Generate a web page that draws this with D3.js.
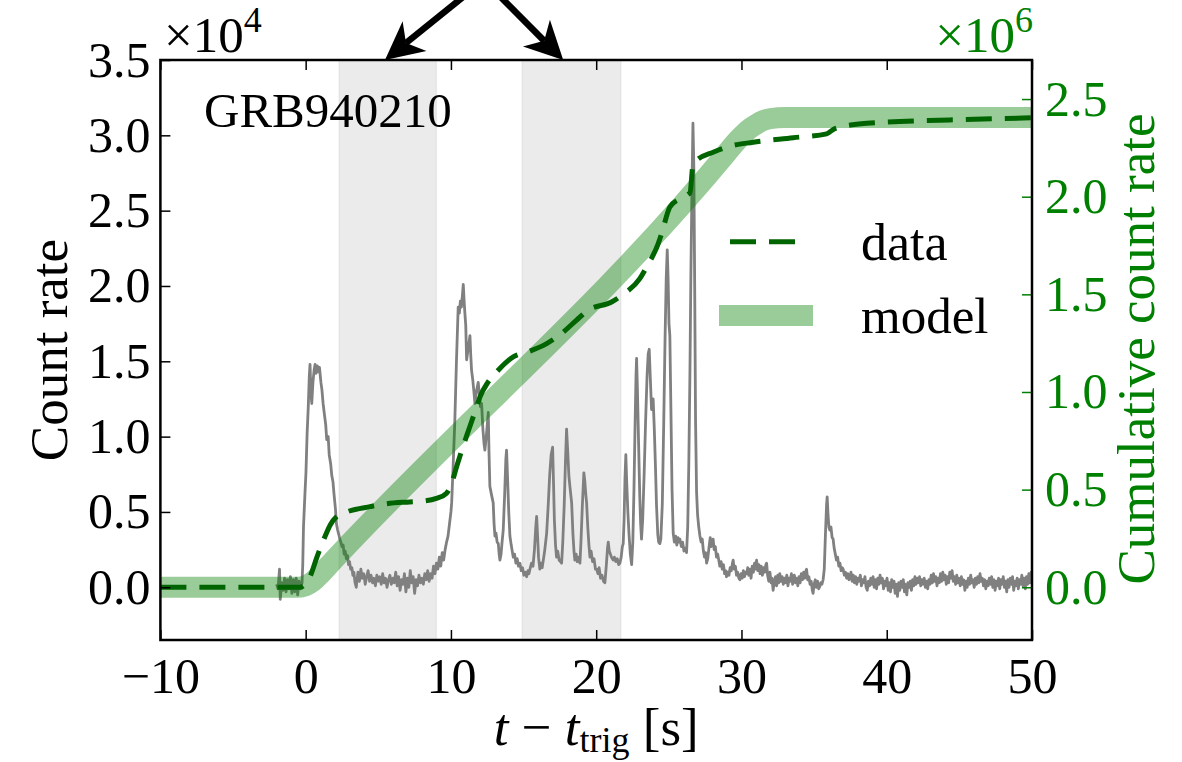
<!DOCTYPE html>
<html><head><meta charset="utf-8">
<script src="https://cdn.jsdelivr.net/npm/d3@7"></script>
<style>
body{margin:0;background:#fff}
svg{display:block}
</style>
</head><body>
<svg id="chart" width="1182" height="762"></svg>
<script>
// ---------------- data ----------------
const xTicks = [-10, 0, 10, 20, 30, 40, 50];
const leftTicks = [0, 0.5, 1, 1.5, 2, 2.5, 3, 3.5];        // ×10^4
const rightTicks = [0, 0.5, 1, 1.5, 2, 2.5];               // ×10^6
const xDomain = [-10, 50];
const leftDomain = [-0.35, 3.5];
const rightDomain = [-0.27, 2.7];
const shadedIntervals = [[2.3, 9.0], [14.9, 21.7]];
const arrowOrigin = [12.27, 4.03];
const arrowTips = [[5.46, 3.5], [17.73, 3.5]];
const labelText = "GRB940210";
const legendLabels = ["data", "model"];

// count rate [t, counts ×1e4]
const countRate = [
[-2.0,0.02],[-1.9,-0.01],[-1.8,0.12],[-1.75,-0.08],[-1.65,0.03],[-1.55,-0.02],[-1.45,0.06],[-1.35,-0.03],[-1.25,0.05],[-1.15,-0.01],[-1.05,0.07],[-0.95,-0.04],[-0.85,0.05],[-0.75,-0.03],[-0.65,0.06],[-0.55,-0.05],[-0.45,0.04],[-0.35,-0.01],[-0.25,0.03],
[-0.2,0.15],[-0.15,0.40],[-0.05,0.62],[0.02,0.76],[0.1,1.02],[0.18,1.20],[0.25,1.40],[0.3,1.48],[0.36,1.30],[0.42,1.22],[0.5,1.36],[0.58,1.44],[0.65,1.48],[0.72,1.42],[0.8,1.47],[0.88,1.43],[0.95,1.46],[1.05,1.36],[1.12,1.31],[1.2,1.22],[1.3,1.14],[1.38,1.08],[1.45,0.98],[1.55,1.00],[1.62,0.88],[1.72,0.82],[1.8,0.74],[1.88,0.70],[1.95,0.62],[2.05,0.52],[2.12,0.42],[2.2,0.38],[2.28,0.35],[2.35,0.32],[2.42,0.30],[2.5,0.27],[2.58,0.28],[2.65,0.22],[2.72,0.24],[2.8,0.19],[2.88,0.21],[2.95,0.15],[3.02,0.17],[3.1,0.12],[3.18,0.13],[3.25,0.08],[3.32,0.10],[3.4,0.03],[3.48,0.0],[3.55,0.06],
[3.6,0.10],[3.7,0.04],[3.8,0.12],[3.9,0.06],[4.0,0.09],[4.1,0.02],[4.2,0.07],[4.3,0.11],[4.4,0.04],[4.5,0.08],[4.6,0.03],[4.7,0.06],[4.8,0.01],[4.9,0.08],[5.0,0.04],[5.1,0.07],[5.2,0.02],[5.3,0.09],[5.4,0.03],[5.5,0.06],[5.6,0.00],[5.7,0.05],[5.8,0.08],[5.9,0.02],[6.0,0.06],[6.1,0.03],[6.2,0.10],[6.3,0.01],[6.4,0.07],[6.5,-0.02],[6.6,0.05],[6.7,0.02],[6.8,0.09],[6.9,-0.03],[7.0,0.06],[7.1,0.00],[7.2,0.11],[7.3,0.03],[7.4,0.07],[7.5,-0.04],[7.6,0.05],[7.7,0.01],[7.8,0.08],[7.9,0.03],[8.0,0.06],[8.1,0.02],[8.2,0.09],[8.3,0.05],[8.4,0.11],[8.5,0.04],[8.6,0.09],[8.7,0.06],[8.8,0.14],[8.9,0.09],[9.0,0.16],[9.1,0.12],[9.2,0.20],[9.3,0.14],[9.4,0.23],[9.5,0.18],[9.6,0.25],[9.7,0.30],[9.8,0.34],[9.9,0.42],[10.0,0.50],
[10.05,0.56],[10.15,0.80],[10.27,1.11],[10.38,1.50],[10.5,1.86],[10.58,1.82],[10.65,1.90],[10.72,1.86],[10.8,1.95],[10.85,2.01],[10.92,1.88],[10.96,1.82],[11.02,1.74],[11.08,1.51],[11.18,1.58],[11.31,1.67],[11.36,1.55],[11.42,1.44],[11.5,1.38],[11.58,1.30],[11.65,1.22],[11.75,1.30],[11.88,1.36],[11.95,1.28],[12.03,1.20],[12.11,1.22],[12.2,1.05],[12.28,0.95],[12.34,0.91],[12.45,1.02],[12.57,1.16],[12.62,0.90],[12.68,0.67],[12.78,0.62],[12.91,0.56],[12.97,0.42],[13.03,0.34],[13.1,0.36],[13.18,0.30],[13.26,0.29],[13.32,0.22],[13.37,0.18],[13.45,0.22],[13.52,0.30],[13.6,0.38],[13.7,0.62],[13.78,0.85],[13.83,0.91],[13.9,0.72],[13.98,0.50],[14.06,0.34],[14.15,0.28],[14.22,0.24],[14.29,0.20],[14.38,0.22],[14.47,0.16],[14.56,0.19],[14.65,0.14],[14.75,0.16],[14.84,0.11],[14.93,0.13],[15.02,0.08],[15.12,0.10],[15.21,0.07],[15.3,0.11],[15.37,0.09],[15.44,0.12],[15.55,0.16],[15.65,0.14],[15.75,0.25],[15.84,0.40],[15.9,0.47],[15.96,0.35],[16.03,0.20],[16.12,0.12],[16.2,0.16],[16.28,0.13],[16.36,0.18],[16.45,0.24],[16.52,0.30],[16.59,0.36],[16.7,0.55],[16.8,0.75],[16.9,0.88],[17.0,0.93],[17.06,0.70],[17.12,0.45],[17.2,0.28],[17.27,0.20],[17.35,0.24],[17.45,0.18],[17.55,0.17],[17.62,0.16],[17.7,0.30],[17.8,0.55],[17.88,0.82],[17.96,1.05],[18.04,0.90],[18.12,0.74],[18.2,0.66],[18.31,0.56],[18.4,0.35],[18.47,0.24],[18.53,0.18],[18.62,0.22],[18.7,0.17],[18.8,0.20],[18.88,0.16],[18.95,0.30],[19.05,0.55],[19.15,0.76],[19.22,0.70],[19.28,0.62],[19.34,0.56],[19.42,0.40],[19.5,0.28],[19.57,0.20],[19.65,0.24],[19.75,0.17],[19.85,0.19],[19.95,0.12],[20.03,0.12],[20.12,0.09],[20.2,0.13],[20.3,0.06],[20.4,0.08],[20.5,0.04],[20.6,0.03],[20.7,0.15],[20.78,0.26],[20.83,0.30],[20.9,0.24],[20.98,0.22],[21.05,0.20],[21.17,0.18],[21.25,0.20],[21.35,0.17],[21.45,0.19],[21.55,0.15],[21.63,0.16],[21.72,0.20],[21.8,0.27],[21.86,0.29],[21.92,0.45],[21.98,0.72],[22.04,0.88],[22.1,0.70],[22.18,0.50],[22.26,0.35],[22.35,0.22],[22.44,0.15],[22.52,0.30],[22.6,0.65],[22.68,1.10],[22.74,1.40],[22.78,1.52],[22.84,1.30],[22.92,0.95],[23.0,0.60],[23.06,0.42],[23.12,0.32],[23.2,0.45],[23.3,0.75],[23.4,1.10],[23.5,1.40],[23.58,1.55],[23.65,1.58],[23.72,1.40],[23.81,1.18],[23.86,1.22],[23.92,1.25],[24.0,1.05],[24.08,0.80],[24.15,0.55],[24.24,0.35],[24.3,0.30],[24.38,0.29],[24.45,0.32],[24.55,0.55],[24.65,1.10],[24.74,1.65],[24.82,2.05],[24.89,2.24],[24.95,2.05],[25.01,1.75],[25.07,1.67],[25.14,1.20],[25.22,0.65],[25.3,0.36],[25.38,0.30],[25.47,0.34],[25.55,0.28],[25.63,0.33],[25.7,0.30],[25.76,0.32],[25.86,0.27],[25.95,0.30],[26.04,0.24],[26.12,0.26],[26.22,0.23],[26.3,0.40],[26.38,0.85],[26.45,1.40],[26.52,2.10],[26.6,2.70],[26.66,3.08],[26.72,2.80],[26.78,2.00],[26.84,1.10],[26.91,0.63],[26.98,0.48],[27.06,0.40],[27.14,0.34],[27.22,0.30],[27.3,0.32],[27.38,0.24],[27.46,0.20],[27.53,0.23],[27.6,0.16],[27.68,0.19],[27.76,0.26],[27.85,0.33],[27.92,0.27],[27.98,0.30],[28.05,0.32],[28.12,0.25],[28.2,0.27],[28.28,0.20],[28.36,0.22],[28.44,0.18],[28.51,0.14],[28.6,0.17],[28.68,0.12],[28.76,0.15],[28.84,0.09],[28.92,0.11],[28.97,0.07],[29.05,0.10],[29.14,0.08],[29.22,0.13],[29.3,0.11],[29.38,0.16],[29.43,0.18],[29.5,0.12],[29.58,0.14],[29.66,0.08],[29.74,0.10],[29.82,0.06],[29.89,0.05],[29.97,0.09],[30.05,0.06],[30.13,0.11],[30.21,0.07],[30.28,0.10],[30.35,0.09],[30.43,0.13],[30.5,0.08],[30.58,0.12],[30.66,0.06],[30.74,0.14],[30.82,0.10],[30.9,0.16],[30.97,0.12],[31.04,0.18],[31.12,0.11],[31.2,0.15],[31.28,0.09],[31.36,0.14],[31.44,0.08],[31.52,0.13],[31.6,0.10],[31.68,0.15],[31.73,0.16],[31.8,0.08],[31.88,0.04],[31.96,0.10],[32.04,0.03],[32.1,0.06],[32.18,-0.02],[32.26,0.04],[32.34,0.07],[32.42,0.01],[32.5,0.08],[32.57,0.03],[32.64,0.09],[32.72,0.04],[32.8,0.07],[32.88,0.02],[32.96,0.06],[33.04,0.03],[33.12,0.08],[33.2,0.01],[33.28,0.06],[33.36,0.04],[33.44,0.09],[33.52,0.02],[33.56,0.05],[33.64,0.08],[33.72,0.03],[33.8,0.06],[33.88,0.01],[33.96,0.07],[34.04,0.03],[34.12,0.09],[34.2,0.05],[34.28,0.10],[34.36,0.06],[34.44,0.11],[34.48,0.12],[34.56,0.05],[34.64,0.07],[34.72,0.02],[34.8,0.04],[34.88,-0.02],[34.93,-0.04],[35.0,0.02],[35.08,0.05],[35.16,0.00],[35.24,0.04],[35.32,-0.01],[35.39,0.005],[35.46,0.03],[35.54,0.02],[35.62,0.05],[35.7,0.12],[35.78,0.35],[35.86,0.55],[35.9,0.60],[35.96,0.48],[36.02,0.40],[36.08,0.38],[36.16,0.40],[36.24,0.33],[36.31,0.32],[36.38,0.26],[36.46,0.22],[36.54,0.18],[36.62,0.20],[36.7,0.14],[36.78,0.16],[36.86,0.11],[36.94,0.13],[37.0,0.12],[37.08,0.08],[37.16,0.10],[37.24,0.06],[37.32,0.09],[37.4,0.05],[37.46,0.07],[37.54,0.10],[37.62,0.04],[37.7,0.08],[37.78,0.03],[37.86,0.07],[37.94,0.02],[38.02,0.06],[38.1,0.04],[38.18,0.08],[38.26,0.01],[38.34,0.05],[38.42,0.03],[38.5,0.07],[38.58,0.00],[38.66,-0.02],[38.74,0.04],[38.82,0.01],[38.9,0.06],[38.98,0.02],[39.06,0.07],[39.14,0.00],[39.22,0.05],[39.3,-0.01],[39.38,0.06],[39.46,0.02],[39.54,0.08],[39.62,0.03],[39.7,0.06],[39.78,-0.01],[39.86,0.04],[39.94,0.01],[40.02,0.06],[40.1,-0.02],[40.18,0.03],[40.26,-0.03],[40.34,0.05],[40.42,0.00],[40.5,0.04],[40.58,-0.04],[40.66,0.02],[40.74,-0.06],[40.82,0.03],[40.9,-0.02],[40.98,0.04],[41.06,0.00],[41.14,0.05],[41.22,-0.03],[41.3,0.02],[41.38,-0.05],[41.46,0.03],[41.54,0.00],[41.62,0.04],[41.7,-0.02],[41.78,0.05],[41.86,0.01],[41.94,0.07],[42.02,0.02],[42.1,0.06],[42.18,0.03],[42.26,0.07],[42.34,0.01],[42.42,0.05],[42.5,0.02],[42.58,0.06],[42.66,0.00],[42.74,0.04],[42.82,-0.01],[42.9,0.05],[42.98,0.02],[43.06,0.08],[43.14,0.03],[43.22,0.09],[43.3,0.04],[43.38,0.07],[43.46,0.01],[43.54,0.06],[43.62,0.03],[43.7,0.09],[43.78,0.04],[43.86,0.10],[43.94,0.05],[44.02,0.08],[44.1,0.02],[44.18,0.07],[44.26,0.03],[44.34,0.10],[44.42,0.06],[44.5,0.11],[44.58,0.04],[44.66,0.07],[44.74,0.02],[44.82,0.08],[44.9,0.03],[44.98,0.06],[45.06,0.01],[45.14,0.07],[45.22,0.02],[45.3,0.05],[45.38,-0.02],[45.46,0.04],[45.54,0.00],[45.62,0.06],[45.7,0.02],[45.78,0.08],[45.86,0.03],[45.94,0.05],[46.02,0.00],[46.1,0.06],[46.18,0.02],[46.26,0.07],[46.34,0.03],[46.42,0.09],[46.5,0.04],[46.58,0.06],[46.66,0.01],[46.74,0.05],[46.82,-0.01],[46.9,0.04],[46.98,0.01],[47.06,0.06],[47.14,0.02],[47.22,0.07],[47.3,0.00],[47.38,0.05],[47.46,-0.02],[47.54,0.04],[47.62,0.01],[47.7,0.06],[47.78,-0.01],[47.86,0.05],[47.94,0.02],[48.02,0.07],[48.1,0.00],[48.18,0.04],[48.26,-0.03],[48.34,0.05],[48.42,0.00],[48.5,0.06],[48.58,0.02],[48.66,0.07],[48.74,-0.02],[48.82,0.04],[48.9,0.01],[48.98,0.06],[49.06,-0.01],[49.14,0.05],[49.22,0.02],[49.3,0.08],[49.38,0.01],[49.46,0.06],[49.54,-0.01],[49.62,0.07],[49.7,0.02],[49.78,0.09],[49.86,0.03],[49.94,0.10],[50.0,0.05]
];

// cumulative count rate, data [t, ×1e6]
const cumulativeData = [
[-10,0],[-1,0],[-0.4,0.0],[0,0.02],[0.3,0.055],[0.8,0.16],[1.33,0.26],[1.7,0.32],[2.13,0.362],[2.91,0.388],[4.43,0.413],[5.57,0.428],[7.17,0.437],[8.21,0.442],[9.0,0.455],[9.7,0.482],[10.05,0.533],[10.4,0.62],[10.74,0.70],[11.08,0.775],[11.77,0.924],[12.0,0.975],[12.55,1.05],[13.15,1.103],[14.29,1.18],[15.32,1.206],[16.59,1.248],[17.62,1.30],[18.65,1.368],[19.45,1.419],[21.06,1.461],[21.86,1.50],[23.0,1.58],[23.47,1.64],[24.27,1.76],[24.5,1.81],[25.07,1.947],[25.76,1.99],[26.45,2.02],[26.68,2.17],[26.9,2.186],[28.05,2.228],[28.97,2.254],[30.8,2.279],[33.56,2.302],[35.86,2.322],[36.43,2.349],[38.61,2.376],[44.34,2.393],[50,2.404]
];

// cumulative count rate, model [t, ×1e6]
const cumulativeModel = [
[-10,0],[-0.5,0],[0,0.008],[0.5,0.03],[1,0.065],[1.5,0.105],[2,0.145],[29,2.225],[29.5,2.27],[30,2.31],[30.5,2.345],[31,2.37],[31.5,2.39],[32,2.4],[33,2.405],[50,2.405]
];

// ---------------- drawing ----------------
const svg = d3.select("#chart");
const L = 160.4, R = 1032, T = 60, B = 640;
const FONT = '"Liberation Serif", "Times New Roman", serif';
const TICKFS = 50;
const GREEN = "#008000", DARKGREEN = "#006400";

const x = d3.scaleLinear().domain(xDomain).range([L, R]);
const yL = d3.scaleLinear().domain(leftDomain).range([B, T]);
const yR = d3.scaleLinear().domain(rightDomain).range([B, T]);

svg.append("rect").attr("width",1182).attr("height",762).attr("fill","#fff");

svg.append("defs").append("clipPath").attr("id","plot")
  .append("rect").attr("x",L).attr("y",T).attr("width",R-L).attr("height",B-T);

const plot = svg.append("g").attr("clip-path","url(#plot)");

// shaded intervals
plot.selectAll("rect.span").data(shadedIntervals).join("rect")
  .attr("class","span")
  .attr("x", d => x(d[0])).attr("width", d => x(d[1]) - x(d[0]))
  .attr("y", T).attr("height", B - T)
  .attr("fill","#808080").attr("fill-opacity",0.16)
  .attr("stroke","#808080").attr("stroke-opacity",0.1).attr("stroke-width",1.5);

// count rate
plot.append("path").datum(countRate)
  .attr("d", d3.line().x(d => x(d[0])).y(d => yL(d[1])))
  .attr("fill","none").attr("stroke","#808080").attr("stroke-width",2.8)
  .attr("stroke-linejoin","round");

// model band
plot.append("path").datum(cumulativeModel)
  .attr("d", d3.line().curve(d3.curveMonotoneX).x(d => x(d[0])).y(d => yR(d[1])))
  .attr("fill","none").attr("stroke",GREEN).attr("stroke-opacity",0.4)
  .attr("stroke-width",21).attr("stroke-linejoin","round");

// data dashed
plot.append("path").datum(cumulativeData)
  .attr("d", d3.line().curve(d3.curveMonotoneX).x(d => x(d[0])).y(d => yR(d[1])))
  .attr("fill","none").attr("stroke",DARKGREEN).attr("stroke-width",5)
  .attr("stroke-dasharray","26,13");

// axes
function styleAxis(g, color){
  g.select(".domain").remove();
  g.selectAll(".tick line").attr("stroke",color).attr("stroke-width",1.5);
  g.selectAll(".tick text").attr("fill",color).style("font-size",TICKFS+"px")
    .style("font-family",FONT);
}
const fmtX = d => d < 0 ? "\u2212" + Math.abs(d) : String(d);
svg.append("g").attr("transform",`translate(0,${B})`)
  .call(d3.axisBottom(x).tickValues(xTicks).tickFormat(fmtX).tickSizeInner(-10).tickSizeOuter(0).tickPadding(17))
  .call(g => styleAxis(g,"#000"));
svg.append("g").attr("transform",`translate(0,${T})`)
  .call(d3.axisTop(x).tickValues(xTicks).tickFormat("").tickSizeInner(-10).tickSizeOuter(0))
  .call(g => styleAxis(g,"#000"));
svg.append("g").attr("transform",`translate(${L},0)`)
  .call(d3.axisLeft(yL).tickValues(leftTicks).tickFormat(d3.format(".1f")).tickSizeInner(-10).tickSizeOuter(0).tickPadding(10))
  .call(g => styleAxis(g,"#000"));
svg.append("g").attr("transform",`translate(${R},0)`)
  .call(d3.axisRight(yR).tickValues(rightTicks).tickFormat(d3.format(".1f")).tickSizeInner(-10).tickSizeOuter(0).tickPadding(13))
  .call(g => styleAxis(g,GREEN));

// frame
svg.append("rect").attr("x",L).attr("y",T).attr("width",R-L).attr("height",B-T)
  .attr("fill","none").attr("stroke","#000").attr("stroke-width",2.5);

function txt(sel, size){ return sel.style("font-family",FONT).style("font-size",size+"px"); }

// multipliers
const m4 = txt(svg.append("text").attr("x",164).attr("y",52).attr("fill","#000"), 51);
m4.append("tspan").text("\u00d710");
m4.append("tspan").style("font-size","36px").attr("dy",-20).text("4");
const m6 = txt(svg.append("text").attr("x",1033).attr("y",52).attr("fill",GREEN).attr("text-anchor","end"), 51);
m6.append("tspan").text("\u00d710");
m6.append("tspan").style("font-size","36px").attr("dy",-20).text("6");

// axis labels
txt(svg.append("text").attr("transform","translate(67,350) rotate(-90)")
  .attr("text-anchor","middle").text("Count rate"), 53);
txt(svg.append("text").attr("transform","translate(1154,349) rotate(-90)")
  .attr("text-anchor","middle").attr("fill",GREEN).text("Cumulative count rate"), 53);
const xl = txt(svg.append("text").attr("x",(L+R)/2).attr("y",745).attr("text-anchor","middle"), 53);
xl.append("tspan").style("font-style","italic").text("t");
xl.append("tspan").text(" \u2212 ");
xl.append("tspan").style("font-style","italic").text("t");
xl.append("tspan").style("font-size","36px").attr("dy",7).text("trig");
xl.append("tspan").attr("dy",-7).text(" [s]");

// annotation label
txt(svg.append("text").attr("x",204).attr("y",127).text(labelText), 49);

// legend
svg.append("line").attr("x1",730).attr("x2",795).attr("y1",241.7).attr("y2",241.7)
  .attr("stroke",DARKGREEN).attr("stroke-width",5).attr("stroke-dasharray","26,13");
svg.append("line").attr("x1",719).attr("x2",813).attr("y1",315.5).attr("y2",315.5)
  .attr("stroke",GREEN).attr("stroke-opacity",0.4).attr("stroke-width",21);
txt(svg.append("text").attr("x",861).attr("y",260).text(legendLabels[0]), 52);
txt(svg.append("text").attr("x",861).attr("y",333).text(legendLabels[1]), 51);

// arrows
const ox = x(arrowOrigin[0]), oy = yL(arrowOrigin[1]);
arrowTips.forEach(tp => {
  const tx = x(tp[0]), ty = yL(tp[1]);
  const dx = tx - ox, dy = ty - oy, len = Math.hypot(dx, dy);
  const ux = dx/len, uy = dy/len, nx = -uy, ny = ux;
  const HL = 38, HW = 19, NOTCH = 27;
  svg.append("line").attr("x1",ox).attr("y1",oy)
    .attr("x2",tx-ux*NOTCH).attr("y2",ty-uy*NOTCH)
    .attr("stroke","#000").attr("stroke-width",6.5);
  const pts = [
    [tx, ty],
    [tx-ux*HL+nx*HW, ty-uy*HL+ny*HW],
    [tx-ux*NOTCH, ty-uy*NOTCH],
    [tx-ux*HL-nx*HW, ty-uy*HL-ny*HW]
  ];
  svg.append("path").attr("d","M"+pts.map(p=>p.join(",")).join("L")+"Z").attr("fill","#000");
});
</script>
</body></html>
